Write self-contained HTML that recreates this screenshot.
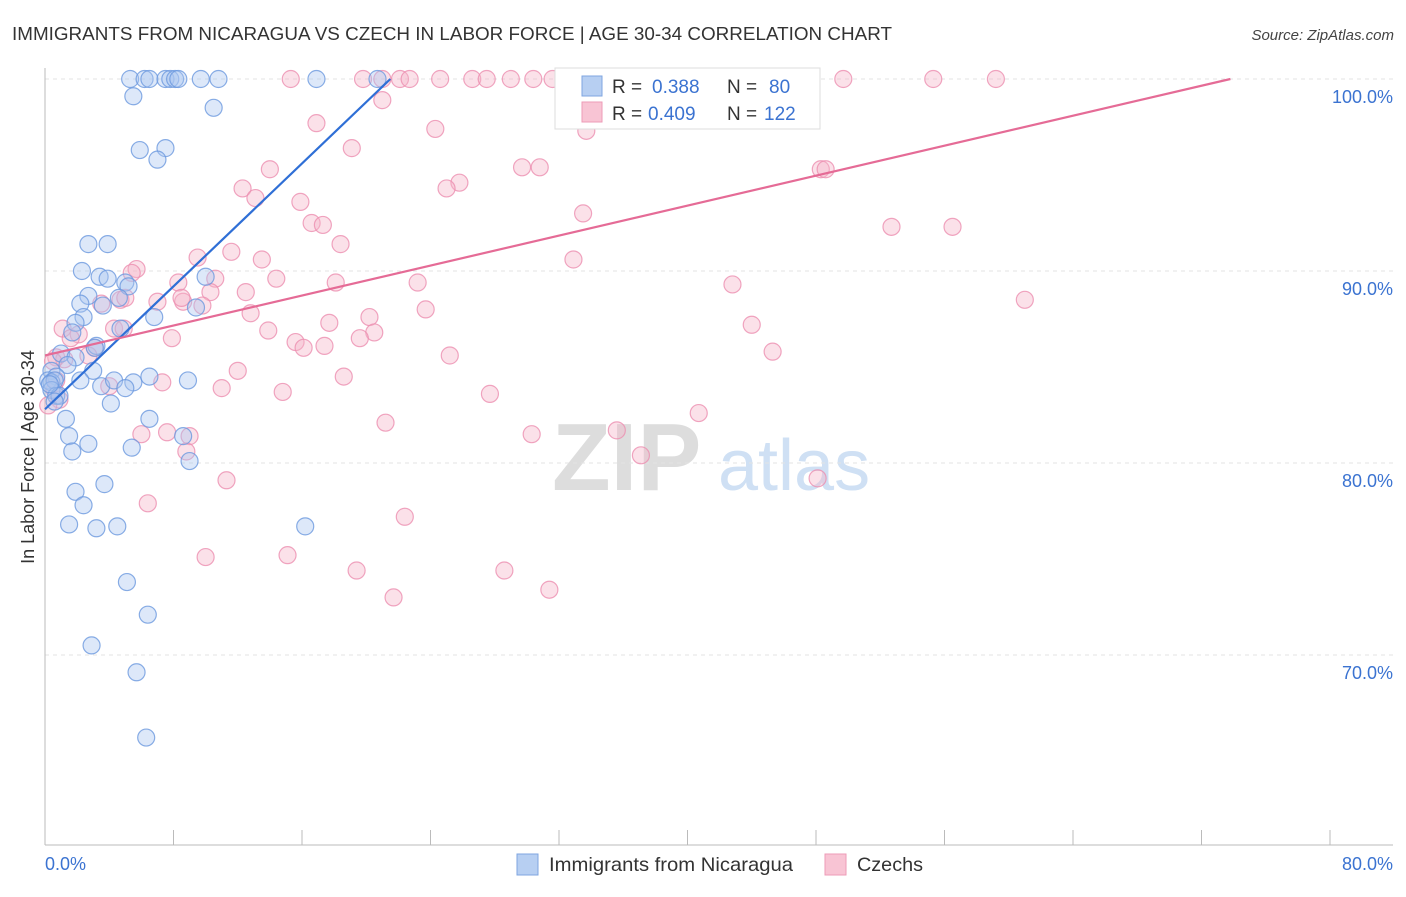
<!DOCTYPE html>
<html><head><meta charset="utf-8"><style>
body{margin:0;background:#fff;font-family:"Liberation Sans",sans-serif;}
svg text{font-family:"Liberation Sans",sans-serif;}
</style></head><body>
<svg id="chart" width="1406" height="892" xmlns="http://www.w3.org/2000/svg">
<text x="12" y="40" font-size="18.5" fill="#333" textLength="880" lengthAdjust="spacingAndGlyphs">IMMIGRANTS FROM NICARAGUA VS CZECH IN LABOR FORCE | AGE 30-34 CORRELATION CHART</text>
<text x="1394" y="40" font-size="15" fill="#444" text-anchor="end" font-style="italic">Source: ZipAtlas.com</text>
<g><text x="552" y="490" font-size="96" fill="#ddd" font-family="Liberation Serif" font-weight="bold">ZIP</text><text x="718" y="490" font-size="72" fill="#cfe0f4">atlas</text></g>
<g id="grid"></g>
<g id="axes"></g>
<g id="points"></g>
<g id="trends"></g>
<text transform="translate(34,457) rotate(-90)" font-size="18" fill="#333" text-anchor="middle">In Labor Force | Age 30-34</text>
<g>
<rect x="555" y="68" width="265" height="61" fill="#fff" stroke="#ddd"/>
<rect x="582" y="76" width="20" height="20" fill="#b7cff2" stroke="#7fa6e0"/>
<text x="612" y="93" font-size="19" fill="#333">R =</text><text x="652" y="93" font-size="19" fill="#3b73d1">0.388</text>
<text x="727" y="93" font-size="19" fill="#333">N =</text><text x="769" y="93" font-size="19" fill="#3b73d1">80</text>
<rect x="582" y="102" width="20" height="20" fill="#f8c4d4" stroke="#ee9bb7"/>
<text x="612" y="120" font-size="19" fill="#333">R =</text><text x="648" y="120" font-size="19" fill="#3b73d1">0.409</text>
<text x="727" y="120" font-size="19" fill="#333">N =</text><text x="764" y="120" font-size="19" fill="#3b73d1">122</text>
</g>
<g>
<rect x="517" y="854" width="21" height="21" fill="#b7cff2" stroke="#7fa6e0"/>
<text x="549" y="871" font-size="19.5" fill="#333" textLength="244" lengthAdjust="spacingAndGlyphs">Immigrants from Nicaragua</text>
<rect x="825" y="854" width="21" height="21" fill="#f8c4d4" stroke="#ee9bb7"/>
<text x="857" y="871" font-size="19.5" fill="#333" textLength="66" lengthAdjust="spacingAndGlyphs">Czechs</text>
</g>
</svg>
<script>
const xTicks=[0,8,16,24,32,40,48,56,64,72,80];
const yTicks=[100,90,80,70];
const yTickLabels=["100.0%","90.0%","80.0%","70.0%"];
const xEndLabels=["0.0%","80.0%"];
const blueX=[5.3,6.2,6.5,7.5,7.8,8.1,8.3,9.7,10.8,16.9,20.7,5.5,10.5,5.9,7.5,7.0,2.7,3.9,2.3,3.4,3.9,5.0,5.2,10.0,2.7,2.2,4.6,3.6,9.4,2.4,1.9,6.8,4.7,1.7,3.2,3.1,1.0,1.9,1.4,0.4,3.0,0.7,0.2,0.4,0.6,2.2,3.5,4.3,5.5,6.5,8.9,5.0,0.4,0.7,4.1,1.3,6.5,1.5,8.6,2.7,5.4,1.7,9.0,3.7,1.9,2.4,1.5,3.2,4.5,16.2,5.1,6.4,2.9,5.7,6.3,0.9,0.3,0.6];
const blueY=[100,100,100,100,100,100,100,100,100,100,100,99.1,98.5,96.3,96.4,95.8,91.4,91.4,90.0,89.7,89.6,89.4,89.2,89.7,88.7,88.3,88.6,88.2,88.1,87.6,87.3,87.6,87.0,86.8,86.1,86.0,85.7,85.5,85.1,84.8,84.8,84.5,84.3,84.2,84.3,84.3,84.0,84.3,84.2,84.5,84.3,83.9,83.8,83.5,83.1,82.3,82.3,81.4,81.4,81.0,80.8,80.6,80.1,78.9,78.5,77.8,76.8,76.6,76.7,76.7,73.8,72.1,70.5,69.1,65.7,83.5,84.1,83.2];
const pinkX=[15.3,19.8,21.0,22.1,22.7,24.6,26.6,27.5,29.0,30.4,31.6,33.9,35.8,37.5,39.5,42.0,43.9,47.5,49.7,55.3,59.2,21.0,16.9,24.3,33.7,19.1,29.7,30.8,14.0,48.3,48.6,25.8,25.0,12.3,13.1,15.9,33.5,16.6,17.3,52.7,56.5,18.4,11.6,9.5,13.5,32.9,5.7,5.4,14.4,10.6,8.3,23.2,18.1,3.5,4.7,5.0,7.0,8.6,10.3,12.5,9.8,8.5,42.8,61.0,12.8,23.7,20.2,17.7,44.0,1.1,4.3,4.9,2.1,1.6,7.9,13.9,20.5,19.6,15.6,16.1,17.4,25.2,45.3,0.7,3.1,2.7,1.2,12.0,18.6,7.3,0.5,11.0,14.8,27.7,40.7,21.2,35.6,30.3,6.0,7.6,9.0,8.8,37.1,48.1,11.3,6.4,22.4,10.0,15.1,19.4,28.6,21.7,31.4,0.7,0.9,0.2,0.6,4.0];
const pinkY=[100,100,100,100,100,100,100,100,100,100,100,100,100,100,100,100,100,100,100,100,100,98.9,97.7,97.4,97.3,96.4,95.4,95.4,95.3,95.3,95.3,94.6,94.3,94.3,93.8,93.6,93.0,92.5,92.4,92.3,92.3,91.4,91.0,90.7,90.6,90.6,90.1,89.9,89.6,89.6,89.4,89.4,89.4,88.3,88.5,88.6,88.4,88.4,88.9,88.9,88.2,88.6,89.3,88.5,87.8,88.0,87.6,87.3,87.2,87.0,87.0,87.0,86.7,86.5,86.5,86.9,86.8,86.5,86.3,86.0,86.1,85.6,85.8,85.5,86.0,85.6,85.4,84.8,84.5,84.2,85.3,83.9,83.7,83.6,82.6,82.1,81.7,81.5,81.5,81.6,81.4,80.6,80.4,79.2,79.1,77.9,77.2,75.1,75.2,74.4,74.4,73.0,73.4,84.3,83.3,83.0,83.8,84.0];
const blueTrend=[0,82.8,21.5,100];
const pinkTrend=[0,85.6,73.8,100];
const NS="http://www.w3.org/2000/svg";
const sx=v=>45+v*(1330-45)/80;
const sy=v=>79+(100-v)*19.2;
function mk(tag,attrs,parent){const e=document.createElementNS(NS,tag);for(const k in attrs)e.setAttribute(k,attrs[k]);parent.appendChild(e);return e;}
const grid=document.getElementById('grid'),axes=document.getElementById('axes'),pts=document.getElementById('points'),tr=document.getElementById('trends');
yTicks.forEach((t,i)=>{
 const l=mk('line',{x1:45,x2:1393,y1:sy(t),y2:sy(t),stroke:'#e3e3e3','stroke-dasharray':'4,4'},grid);
 
 
 const tx=mk('text',{x:1393,y:sy(t)+24,'font-size':18,fill:'#3b73d1','text-anchor':'end'},axes);
 tx.textContent=yTickLabels[i];
 
 
});
mk('line',{x1:45,x2:45,y1:68,y2:845,stroke:'#bbb'},axes);
mk('line',{x1:45,x2:1393,y1:845,y2:845,stroke:'#bbb'},axes);
xTicks.forEach(t=>{
 const l=mk('line',{x1:sx(t),x2:sx(t),y1:830,y2:845,stroke:'#bbb'},axes);
 
 
});
[[0,'start',45],[80,'end',1393]].forEach((a,i)=>{
 const tx=mk('text',{x:a[2],y:870,'font-size':18,fill:'#3b73d1','text-anchor':a[1]},axes);
 tx.textContent=xEndLabels[i];
 
 
});
function drawPts(X,Y,fill,stroke,name){
 X.forEach((x,i)=>{
  const c=mk('circle',{cx:sx(x),cy:sy(Y[i]),r:8.5,fill:fill,'fill-opacity':0.4,stroke:stroke,'stroke-width':1.2,'stroke-opacity':0.8},pts);
  
  
 });
}
drawPts(pinkX,pinkY,'#f5b3c8','#ec8fb0','czech-point');
drawPts(blueX,blueY,'#a9c5f0','#6b98de','nicaragua-point');
[[blueTrend,'#2f6fd6','nicaragua-trend-line'],[pinkTrend,'#e56b96','czech-trend-line']].forEach(a=>{
 const t=a[0];
 const l=mk('line',{x1:sx(t[0]),y1:sy(t[1]),x2:sx(t[2]),y2:sy(t[3]),stroke:a[1],'stroke-width':2.2},tr);
 
 
});
</script>
</body></html>
